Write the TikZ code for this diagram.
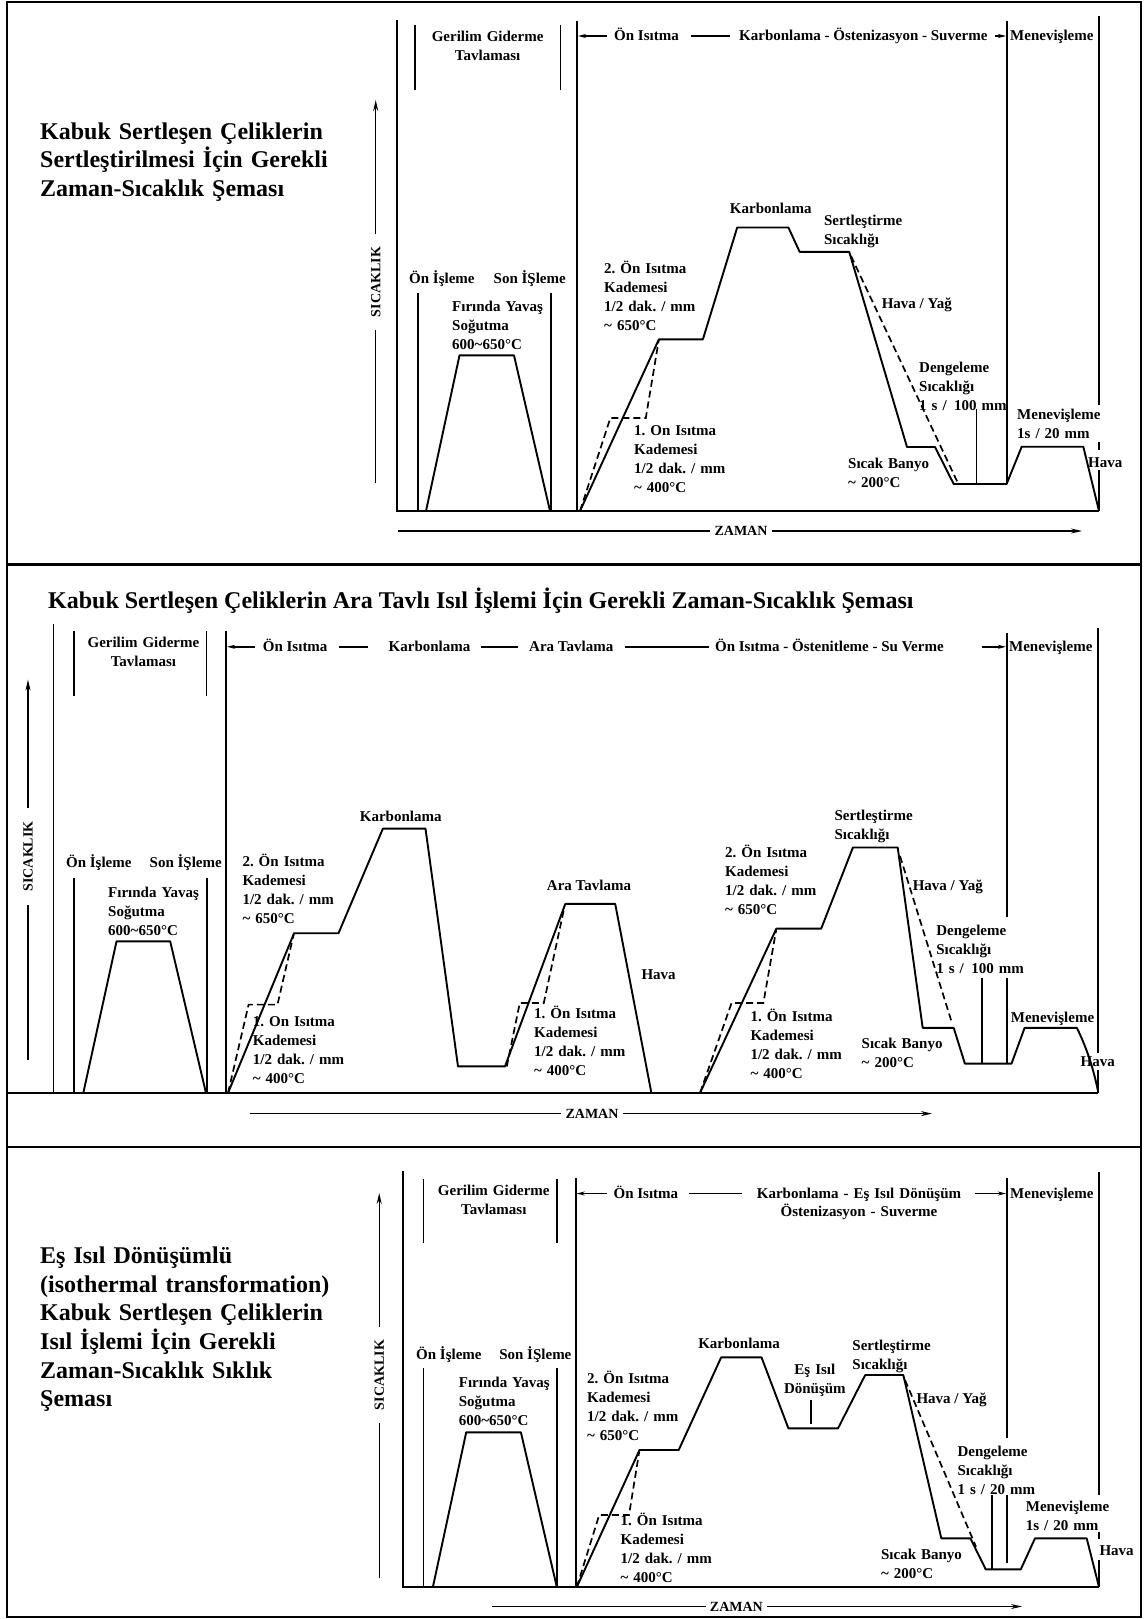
\documentclass[tikz,border=0pt]{standalone}
\usepackage{fontspec}
\setmainfont{Liberation Serif}
\usetikzlibrary{arrows.meta}
\frenchspacing
\newcommand\lblfont{\fontsize{15}{19}\selectfont\bfseries\frenchspacing}
\newcommand\axfont{\fontsize{14}{16}\selectfont\bfseries}
\newcommand\tl{\textasciitilde{}}
\begin{document}
\begin{tikzpicture}[x=1pt,y=-1pt,
  frame/.style={line width=2.2pt},
  ax/.style={line width=1.9pt},
  crv/.style={line width=1.9pt,line join=round},
  dcrv/.style={line width=1.7pt,dash pattern=on 7pt off 4pt},
  thin/.style={line width=1.4pt},
  tipa/.tip={Stealth[length=11pt,width=5pt]},
  tipb/.tip={Stealth[length=8pt,width=4pt]},
  lbl/.style={font=\lblfont,inner sep=0pt,text width=170pt,align=left,anchor=base west},
  clbl/.style={font=\lblfont,inner sep=0pt,text width=200pt,align=center,anchor=base},
  hd/.style={font=\lblfont,inner sep=0pt,anchor=base west},
  hdr/.style={font=\lblfont,inner sep=0pt,anchor=base east},
  hdc/.style={font=\lblfont,inner sep=0pt,anchor=base},
  ttl/.style={font=\fontsize{24}{28.6}\selectfont\bfseries,inner sep=0pt,text width=400pt,align=left,anchor=base west},
  ylbl/.style={font=\axfont,rotate=90,inner xsep=13pt,inner ysep=2pt},
  xlbl/.style={font=\axfont,inner xsep=4pt,inner ysep=2pt}]
\useasboundingbox (0,0) rectangle (1145,1619);
\fill[white] (0,0) rectangle (1145,1619);

% outer frame and panel dividers
\draw[frame] (7,2) rectangle (1141,1617);
\draw[frame] (7,564.5) -- (1141,564.5);
\draw[frame] (7,1147) -- (1141,1147);

%================ Panel 1 ================
\node[ttl] (t1) at (40,139) {Kabuk Sertleşen Çeliklerin\\Sertleştirilmesi İçin Gerekli\\Zaman-Sıcaklık Şeması};

\draw[ax] (397,20) -- (397,511) -- (1099,511);
\draw[ax] (1099,16) -- (1099,405);
\draw[ax] (1099,442) -- (1099,450);
\draw[ax] (1099,470) -- (1099,511);
\draw[ax] (576.7,21) -- (576.7,511);
\draw[ax] (1006.6,21) -- (1006.6,484);
\draw[ax] (415,25) -- (415,90);
\draw[ax] (560.5,25) -- (560.5,90);
\draw[ax] (418,293) -- (418,511);
\draw[ax] (550.7,293) -- (550.7,511);
\draw[ax] (976.5,409) -- (976.5,484);

\draw[crv] (426,511) -- (459.5,355.4) -- (514,355.4) -- (550,511);
\draw[crv] (580,511) -- (658.9,339.3) -- (702.9,339.3) -- (737.2,227.5) -- (788.4,227.5)
  -- (799.6,251.8) -- (849.2,251.8) -- (907,447) -- (935,447) -- (953.7,484) -- (1006.6,484)
  -- (1021.7,446.7) -- (1083.3,446.7) -- (1099,511);
\draw[dcrv] (580,511) -- (610.4,417.9) -- (645.8,417.9) -- (658.9,339.3);
\draw[dcrv] (851,256) -- (957.4,482);

% temperature axis
\node[ylbl] (y1) at (375.7,282) {SICAKLIK};
\coordinate (y1b) at (375.7,483);
\coordinate (y1t) at (375.7,100);
\draw[thin] (y1b) -- (y1.west);
\draw[thin,-tipa] (y1.east) -- (y1t);
% time axis
\node[xlbl] (x1) at (741,531) {ZAMAN};
\coordinate (x1l) at (398,531);
\coordinate (x1r) at (1082,531);
\draw[thin] (x1l) -- (x1.west);
\draw[thin,-tipa] (x1.east) -- (x1r);

% stage header
\node[hd] (h1a) at (614,41) {Ön Isıtma};
\node[hd] (h1b) at (739,41) {Karbonlama - Östenizasyon - Suverme};
\node[hd] (h1c) at (1010,41) {Menevişleme};
\draw[thin,tipb-] (578,36) -- (607,36);
\draw[thin] (690.6,36) -- (729.8,36);
\draw[thin,-tipb] (995,36) -- (1006,36);

% labels
\node[clbl] (g1) at (487.6,41.8) {Gerilim Giderme\\Tavlaması};
\node[hd] (o1) at (409,283) {Ön İşleme};
\node[hdr] (s1) at (566,283) {Son İŞleme};
\node[lbl] (f1) at (452,311.4) {Fırında Yavaş\\Soğutma\\600\tl650°C};
\node[hdc] (k1) at (770.8,213.2) {Karbonlama};
\node[lbl] (se1) at (823.8,225.7) {Sertleştirme\\Sıcaklığı};
\node[lbl] (on1) at (604,273.6) {2. Ön Isıtma\\Kademesi\\1/2 dak. / mm\\\tl\ 650°C};
\node[hd] (hy1) at (881.6,308.6) {Hava / Yağ};
\node[lbl] (oa1) at (633.9,435.4) {1. On Isıtma\\Kademesi\\1/2 dak. / mm\\\tl\ 400°C};
\node[lbl] (d1) at (919,372.9) {Dengeleme\\Sıcaklığı\\1 s / \,100 mm};
\node[lbl] (m1) at (1017,419.3) {Menevişleme\\1s / 20 mm};
\node[lbl] (b1) at (848,468.6) {Sıcak Banyo\\\tl\ 200°C};
\node[hd] (hv1) at (1088,467.3) {Hava};

%================ Panel 2 ================
\node[font=\fontsize{24}{28}\selectfont\bfseries,inner sep=0pt,anchor=base west] (t2) at (48,608)
  {Kabuk Sertleşen Çeliklerin Ara Tavlı Isıl İşlemi İçin Gerekli Zaman-Sıcaklık Şeması};

\draw[ax] (53.5,624) -- (53.5,1093);
\draw[ax] (7,1093) -- (1098.3,1093);
\draw[ax] (1098.3,628) -- (1098.3,1053);
\draw[ax] (1098.3,1070) -- (1098.3,1093);
\draw[ax] (226,631) -- (226,1093);
\draw[ax] (1006.6,633) -- (1006.6,917);
\draw[ax] (1006.6,978) -- (1006.6,1063.6);
\draw[ax] (981.6,978) -- (981.6,1063.6);
\draw[ax] (74,631.4) -- (74,696.4);
\draw[ax] (206.5,631.4) -- (206.5,696.4);
\draw[ax] (74,878) -- (74,1093);
\draw[ax] (206.6,878) -- (206.6,1093);

\draw[crv] (83.3,1093) -- (116.5,941.4) -- (170.2,941.4) -- (206,1093);
\draw[crv] (228,1093) -- (294.1,933.2) -- (338.5,933.2) -- (382.9,828.6) -- (425.5,828.6)
  -- (458,1066.4) -- (505,1066.4) -- (565.3,903.9) -- (615.2,903.9) -- (651.4,1093);
\draw[crv] (700,1093) -- (776.4,928.6) -- (821.2,928.6) -- (852.9,847.5) -- (897.7,847.5)
  -- (922.7,1027.9) -- (953.7,1027.9) -- (964.9,1063.6) -- (1011.5,1063.6) -- (1024.6,1027.9)
  -- (1076.8,1027.9) .. controls (1088,1050) and (1095,1075) .. (1098.3,1093);
\draw[dcrv] (228,1093) -- (248.6,1004.6) -- (277.5,1004.6) -- (294,933);
\draw[dcrv] (506.8,1066.4) -- (519.8,1002.9) -- (543.8,1002.9) -- (564.2,908.2);
\draw[dcrv] (700,1093) -- (731.6,1002.9) -- (763.4,1002.9) -- (776.4,928.6);
\draw[dcrv] (900,856) -- (951.8,1022.5);

\node[ylbl] (y2) at (28,856.4) {SICAKLIK};
\coordinate (y2b) at (28,1060);
\coordinate (y2t) at (28,679.6);
\draw[thin] (y2b) -- (y2.west);
\draw[thin,-tipa] (y2.east) -- (y2t);
\node[xlbl] (x2) at (592,1113.6) {ZAMAN};
\coordinate (x2l) at (249.7,1113.6);
\coordinate (x2r) at (932,1113.6);
\draw[thin] (x2l) -- (x2.west);
\draw[thin,-tipa] (x2.east) -- (x2r);

\node[hd] (h2a) at (262.7,651.8) {Ön Isıtma};
\node[hd] (h2b) at (388.5,651.8) {Karbonlama};
\node[hd] (h2c) at (529,651.8) {Ara Tavlama};
\node[hd] (h2d) at (714.9,651.8) {Ön Isıtma - Östenitleme - Su Verme};
\node[hd] (h2e) at (1008.9,651.8) {Menevişleme};
\draw[thin,tipb-] (227,646.8) -- (255.3,646.8);
\draw[thin] (338.5,646.8) -- (368,646.8);
\draw[thin] (481,646.8) -- (518,646.8);
\draw[thin] (625.3,646.8) -- (709.3,646.8);
\draw[thin,-tipb] (981.6,646.8) -- (1006,646.8);

\node[clbl] (g2) at (143.4,647.9) {Gerilim Giderme\\Tavlaması};
\node[hd] (o2) at (65.9,867.9) {Ön İşleme};
\node[hdr] (s2) at (222,867.9) {Son İŞleme};
\node[lbl] (f2) at (108,897) {Fırında Yavaş\\Soğutma\\600\tl650°C};
\node[hdc] (k2) at (400.7,821.4) {Karbonlama};
\node[lbl] (on2) at (242.3,866.8) {2. Ön Isıtma\\Kademesi\\1/2 dak. / mm\\\tl\ 650°C};
\node[lbl] (oa2) at (252.7,1026.4) {1. On Isıtma\\Kademesi\\1/2 dak. / mm\\\tl\ 400°C};
\node[hdc] (a2) at (589,890) {Ara Tavlama};
\node[lbl] (ob2) at (533.9,1018.6) {1. Ön Isıtma\\Kademesi\\1/2 dak. / mm\\\tl\ 400°C};
\node[hd] (hv2) at (641.3,979.3) {Hava};
\node[lbl] (oc2) at (724.9,857.9) {2. Ön Isıtma\\Kademesi\\1/2 dak. / mm\\\tl\ 650°C};
\node[lbl] (se2) at (834.3,820.4) {Sertleştirme\\Sıcaklığı};
\node[hd] (hy2) at (912.6,890) {Hava / Yağ};
\node[lbl] (d2) at (936.1,935.7) {Dengeleme\\Sıcaklığı\\1 s / \,100 mm};
\node[lbl] (od2) at (750.3,1021.4) {1. Ön Isıtma\\Kademesi\\1/2 dak. / mm\\\tl\ 400°C};
\node[lbl] (b2) at (861.5,1048.9) {Sıcak Banyo\\\tl\ 200°C};
\node[hd] (m2) at (1010.7,1022.1) {Menevişleme};
\node[hd] (hw2) at (1080.5,1066.8) {Hava};

%================ Panel 3 ================
\node[ttl,text width=300pt] (t3) at (40,1263.7) {Eş Isıl Dönüşümlü\\(isothermal transformation)\\Kabuk Sertleşen Çeliklerin\\Isıl İşlemi İçin Gerekli\\Zaman-Sıcaklık Sıklık\\Şeması};

\draw[ax] (403.3,1171) -- (403.3,1587) -- (1099,1587);
\draw[ax] (1099,1171.7) -- (1099,1495);
\draw[ax] (1099,1532) -- (1099,1539);
\draw[ax] (1099,1560) -- (1099,1587);
\draw[ax] (575.7,1178.3) -- (575.7,1587);
\draw[ax] (1006.6,1178.3) -- (1006.6,1438);
\draw[ax] (1006.6,1495) -- (1006.6,1563.3);
\draw[ax] (992.3,1495) -- (992.3,1569.3);
\draw[ax] (423.5,1179.3) -- (423.5,1243.3);
\draw[ax] (556.7,1179.3) -- (556.7,1243.3);
\draw[ax] (423.5,1368.3) -- (423.5,1587);
\draw[ax] (556.8,1368.3) -- (556.8,1587);
\draw[ax] (810.7,1400) -- (810.7,1424);

\draw[crv] (432.9,1587) -- (466.2,1432.3) -- (520.9,1432.3) -- (556.8,1587);
\draw[crv] (576.8,1587) -- (639.5,1450) -- (678.7,1450) -- (721.2,1357.3) -- (761.5,1357.3)
  -- (788.4,1428.3) -- (838,1428.3) -- (865.2,1375) -- (903.3,1375) -- (941.3,1538.3)
  -- (970.4,1538.3) -- (985.7,1569.3) -- (1020.8,1569.3) -- (1035,1538.3) -- (1086.7,1538.3)
  -- (1099,1587);
\draw[dcrv] (576.8,1587) -- (599.2,1515) -- (629,1515) -- (639.5,1450);
\draw[dcrv] (905,1380) -- (976,1546.7);

\node[ylbl] (y3) at (379.2,1375) {SICAKLIK};
\coordinate (y3b) at (379.2,1578.3);
\coordinate (y3t) at (379.2,1193);
\draw[thin] (y3b) -- (y3.west);
\draw[thin,-tipa] (y3.east) -- (y3t);
\node[xlbl] (x3) at (736.4,1606.5) {ZAMAN};
\coordinate (x3l) at (492,1606.5);
\coordinate (x3r) at (1022,1606.5);
\draw[thin] (x3l) -- (x3.west);
\draw[thin,-tipa] (x3.east) -- (x3r);

\node[hd] (h3a) at (613.4,1198.5) {Ön Isıtma};
\node[font=\fontsize{15}{17.5}\selectfont\bfseries,inner sep=0pt,text width=240pt,align=center,anchor=base] (h3b) at (859,1198.5) {Karbonlama - Eş Isıl Dönüşüm\\Östenizasyon - Suverme};
\node[hd] (h3c) at (1010,1198.5) {Menevişleme};
\draw[thin,tipb-] (576.7,1193.5) -- (606.6,1193.5);
\draw[thin] (688.7,1193.5) -- (741.7,1193.5);
\draw[thin,-tipb] (974.9,1193.5) -- (1005.9,1193.5);

\node[clbl] (g3) at (493.8,1195.7) {Gerilim Giderme\\Tavlaması};
\node[hd] (o3) at (416,1359) {Ön İşleme};
\node[hdr] (s3) at (571.6,1359) {Son İŞleme};
\node[lbl] (f3) at (458.7,1387.7) {Fırında Yavaş\\Soğutma\\600\tl650°C};
\node[hdc] (k3) at (739.1,1348.3) {Karbonlama};
\node[clbl] (e3) at (814.9,1374.3) {Eş Isıl\\Dönüşüm};
\node[lbl] (se3) at (852.2,1350) {Sertleştirme\\Sıcaklığı};
\node[lbl] (on3) at (586.9,1383.3) {2. Ön Isıtma\\Kademesi\\1/2 dak. / mm\\\tl\ 650°C};
\node[hd] (hy3) at (916.3,1403.3) {Hava / Yağ};
\node[lbl] (d3) at (957.4,1456) {Dengeleme\\Sıcaklığı\\1 s / 20 mm};
\node[lbl] (m3) at (1025.7,1511) {Menevişleme\\1s / 20 mm};
\node[lbl] (oa3) at (620.4,1525.7) {1. Ön Isıtma\\Kademesi\\1/2 dak. / mm\\\tl\ 400°C};
\node[lbl] (b3) at (880.9,1559.3) {Sıcak Banyo\\\tl\ 200°C};
\node[hd] (hv3) at (1099.3,1555) {Hava};
\end{tikzpicture}
\end{document}
